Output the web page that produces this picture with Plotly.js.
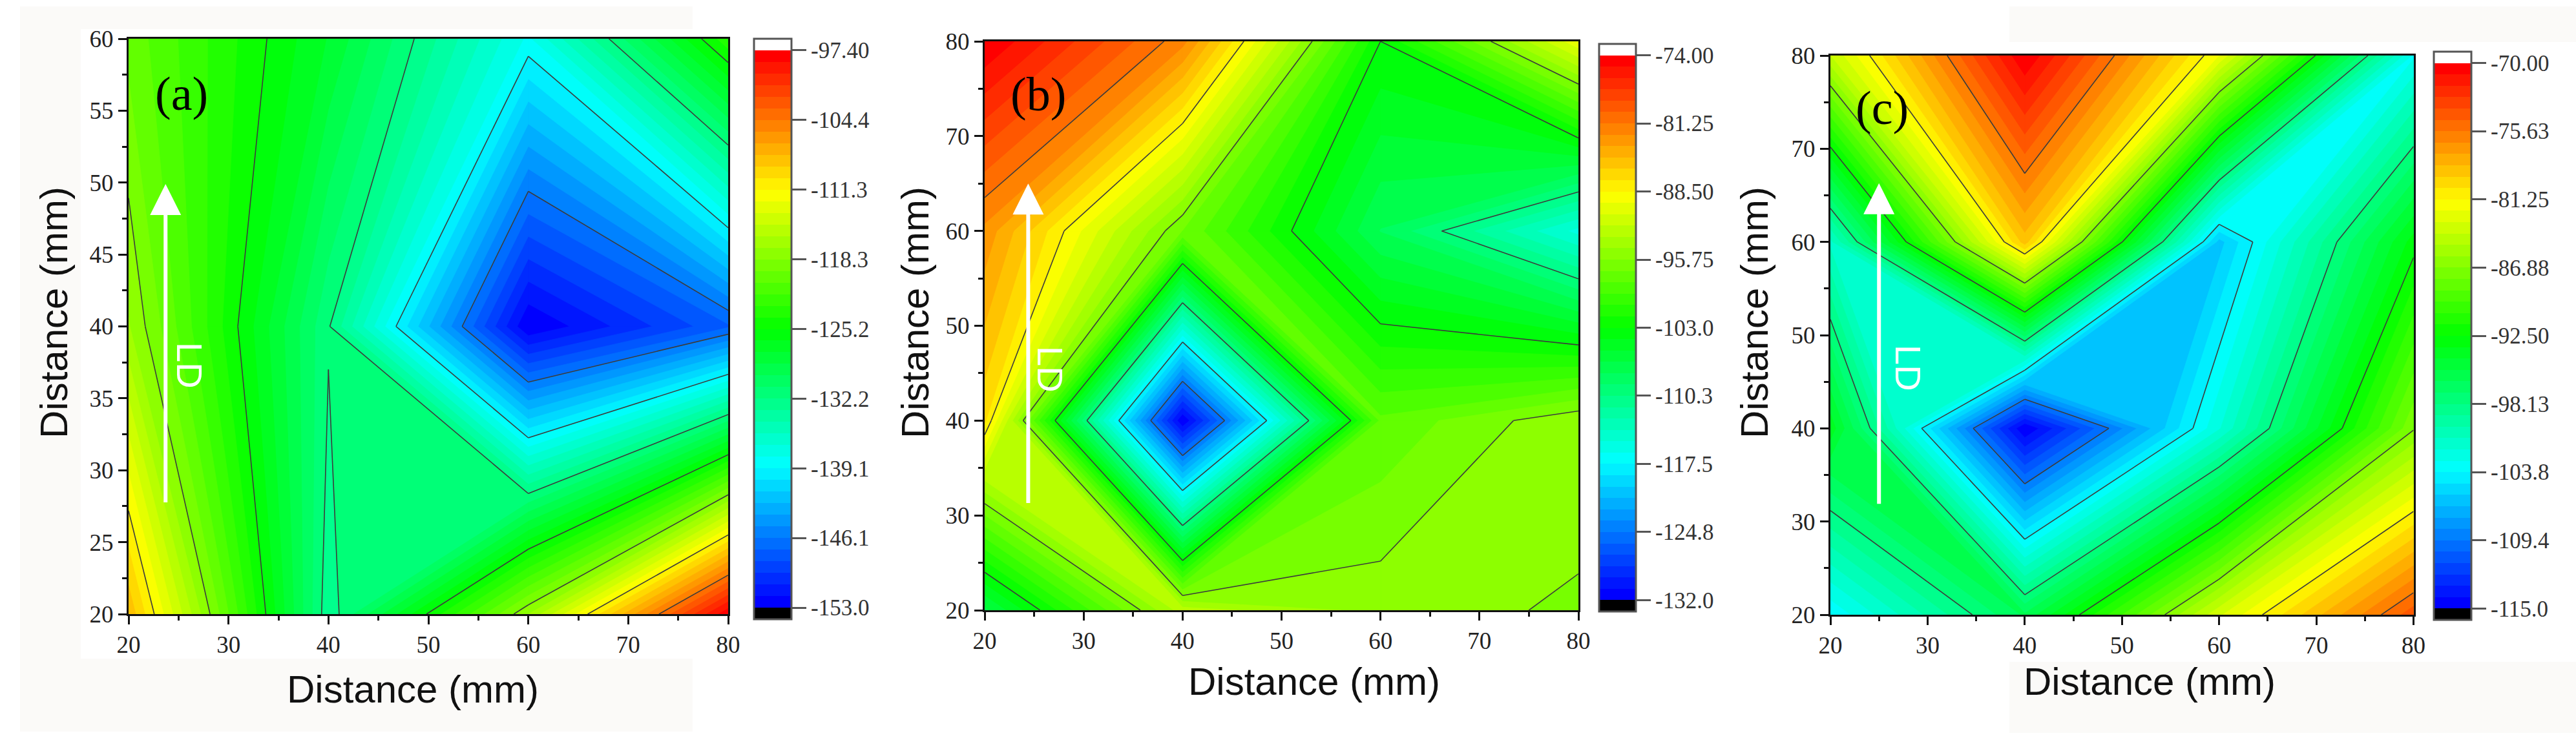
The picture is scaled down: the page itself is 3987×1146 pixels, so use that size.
<!DOCTYPE html>
<html><head><meta charset="utf-8">
<script src="https://cdn.plot.ly/plotly-3.0.1.min.js"></script>
<style>html,body{margin:0;padding:0;background:#fff}</style></head>
<body><div id="chart" style="width:3987px;height:1146px"></div>
<script>
// ---- values ----
const xGrid = [20, 40, 60, 80];
const yGridA = [20, 40, 60];
const yGridB = [20, 40, 60, 80];
const yGridC = [20, 40, 60, 80];
const zA = [
  [-108.1, -133.0, -117.1, -97.6],
  [-117.0, -132.0, -153.0, -147.4],
  [-119.8, -127.6, -138.2, -123.2]
];
const zB = [
  [-107.0, -92.7, -95.0, -96.0],
  [-87.0, -132.0, -97.9, -94.7],
  [-82.8, -97.0, -107.9, -115.5],
  [-74.0, -82.0, -103.0, -90.0]
];
const zC = [
  [-103.6, -96.1, -83.3, -74.1],
  [-93.8, -115.0, -102.0, -87.0],
  [-101.2, -78.9, -106.0, -93.0],
  [-84.1, -70.0, -82.2, -103.0]
];
const barLabelsA = ['-97.40','-104.4','-111.3','-118.3','-125.2','-132.2','-139.1','-146.1','-153.0'];
const barLabelsB = ['-74.00','-81.25','-88.50','-95.75','-103.0','-110.3','-117.5','-124.8','-132.0'];
const barLabelsC = ['-70.00','-75.63','-81.25','-86.88','-92.50','-98.13','-103.8','-109.4','-115.0'];
const rangesZ = {a:[-153,-97.4], b:[-132,-74], c:[-115,-70]};
const axisTitle = 'Distance (mm)';
const panelTags = ['(a)','(b)','(c)'];
const arrowText = 'LD';
const rainbow = [[0,0,255],[0,255,255],[0,255,0],[255,255,0],[255,0,0]];
const bandsPerTick = 6, tickSteps = 8, bandCount = bandsPerTick*tickSteps;

// ---- layout (pixels of the 3987x1146 page) ----
const W = 3987, H = 1146;
const panels = [
 {id:'', xg:xGrid, yg:yGridA, z:zA, zr:rangesZ.a, labels:barLabelsA, yr:[20,60], ydt:5, ymin:2.5,
  box:[199,1127,60,951], bar:[1167,1225,60,959], tag:[281,145], ld:[293,566], arrow:[23.7,27.7,49.9],
  xt:[639,1067], yt:[84,484]},
 {id:'2', xg:xGrid, yg:yGridB, z:zB, zr:rangesZ.b, labels:barLabelsB, yr:[20,80], ydt:10, ymin:5,
  box:[1524,2443,64,945], bar:[2475,2532,68,947], tag:[1607,146], ld:[1626,572], arrow:[24.4,31.2,65],
  xt:[2034,1055], yt:[1417,484]},
 {id:'3', xg:xGrid, yg:yGridC, z:zC, zr:rangesZ.c, labels:barLabelsC, yr:[20,80], ydt:10, ymin:5,
  box:[2833,3735.5,86,952], bar:[3767,3825,80,960], tag:[2913,167], ld:[2954,570], arrow:[25,31.8,66.3],
  xt:[3327,1055], yt:[2716,484]}
];
const px = v => v/W, py = v => 1 - v/H;

function bandColor(k){
  const t = k/(bandCount-1)*(rainbow.length-1), i = Math.min(Math.floor(t), rainbow.length-2), f = t-i;
  const c = rainbow[i].map((a,j)=>Math.round(a+(rainbow[i+1][j]-a)*f));
  return `rgb(${c[0]},${c[1]},${c[2]})`;
}

// Contouring cell by cell. In a saddle cell the diagonal pair of corners closer in value stays joined.
function cross(a,b,L){ const t=(L-a.z)/(b.z-a.z); return [a.x+(b.x-a.x)*t, a.y+(b.y-a.y)*t]; }
function cellsOf(p){
  const out=[];
  for(let j=0;j<p.yg.length-1;j++) for(let i=0;i<p.xg.length-1;i++){
    out.push([
      {x:p.xg[i],y:p.yg[j],z:p.z[j][i]},{x:p.xg[i+1],y:p.yg[j],z:p.z[j][i+1]},
      {x:p.xg[i+1],y:p.yg[j+1],z:p.z[j+1][i+1]},{x:p.xg[i],y:p.yg[j+1],z:p.z[j+1][i]}]);
  }
  return out;
}
function isSaddle(up){ return up[0]===up[2] && up[1]===up[3] && up[0]!==up[1]; }
function highsJoined(c,up){
  const d02=Math.abs(c[0].z-c[2].z), d13=Math.abs(c[1].z-c[3].z);
  return up[0] ? d02<=d13 : d13<=d02;
}
function fillPolys(c,L){
  const up=c.map(q=>q.z>=L), polys=[];
  if(!up.some(Boolean)) return polys;
  if(isSaddle(up) && !highsJoined(c,up)){
    for(let i=0;i<4;i++) if(up[i]){
      const pr=c[(i+3)%4], nx=c[(i+1)%4];
      polys.push([cross(pr,c[i],L),[c[i].x,c[i].y],cross(c[i],nx,L)]);
    }
    return polys;
  }
  const poly=[];
  for(let i=0;i<4;i++){
    const n=(i+1)%4;
    if(up[i]) poly.push([c[i].x,c[i].y]);
    if(up[i]!==up[n]) poly.push(cross(c[i],c[n],L));
  }
  polys.push(poly);
  return polys;
}
function lineSegs(c,L){
  const up=c.map(q=>q.z>=L), e=[];
  for(let i=0;i<4;i++){ const n=(i+1)%4; e[i]=(up[i]!==up[n])?cross(c[i],c[n],L):null; }
  if(isSaddle(up)){
    const hj=highsJoined(c,up);
    const pairs = up[0]? (hj?[[0,1],[2,3]]:[[3,0],[1,2]]) : (hj?[[3,0],[1,2]]:[[0,1],[2,3]]);
    return pairs.map(([a,b])=>[e[a],e[b]]);
  }
  const pts=e.filter(Boolean);
  return pts.length===2?[pts]:[];
}

const traces=[], annos=[], shapes=[];
const layout={width:W,height:H,autosize:false,margin:{l:0,r:0,t:0,b:0},paper_bgcolor:'#fff',plot_bgcolor:'#fff',showlegend:false};
const tickFont={family:'"Liberation Serif",serif',size:37,color:'#222'};

// pale scan panels behind the figure
[[31,1072,10,1133,'#fbfaf8'],[125,1072,45,1020,'#ffffff'],[3110,3987,10,65,'#fbfaf8'],[3110,3987,1025,1135,'#fbfaf8']]
 .forEach(r=>shapes.push({type:'rect',xref:'paper',yref:'paper',x0:px(r[0]),x1:px(r[1]),y0:py(r[3]),y1:py(r[2]),fillcolor:r[4],line:{width:0},layer:'below'}));

panels.forEach(p=>{
  const xa='x'+p.id, ya='y'+p.id, xk='xaxis'+p.id, yk='yaxis'+p.id;
  const [zlo,zhi]=p.zr, step=(zhi-zlo)/bandCount;
  layout[xk]={domain:[px(p.box[0]),px(p.box[1])],anchor:ya,range:[20,80],dtick:10,tick0:20,ticks:'outside',ticklen:13,tickwidth:3,
    tickcolor:'#111',showgrid:false,zeroline:false,showline:true,linecolor:'#111',linewidth:3,mirror:true,tickfont:tickFont,
    minor:{dtick:5,tick0:20,ticks:'outside',ticklen:7,tickwidth:3,tickcolor:'#111',showgrid:false}};
  layout[yk]={domain:[py(p.box[3]),py(p.box[2])],anchor:xa,range:p.yr,dtick:p.ydt,tick0:20,ticks:'outside',ticklen:13,tickwidth:3,
    tickcolor:'#111',showgrid:false,zeroline:false,showline:true,linecolor:'#111',linewidth:3,mirror:true,tickfont:tickFont,
    minor:{dtick:p.ymin,tick0:20,ticks:'outside',ticklen:7,tickwidth:3,tickcolor:'#111',showgrid:false}};

  // stepped scale: black below the range, white above it
  const scale=[], n=bandCount+2;
  for(let k=0;k<n;k++){
    const col = k===0?'#000000':(k===n-1?'#ffffff':bandColor(k-1));
    scale.push([k/n,col],[(k+1)/n,col]);
  }
  traces.push({type:'heatmap',x:p.xg,y:p.yg,z:p.z,xaxis:xa,yaxis:ya,zmin:zlo-step,zmax:zhi+step,colorscale:scale,hoverinfo:'skip',
    colorbar:{x:px(p.bar[0]),xanchor:'left',y:py((p.bar[2]+p.bar[3])/2),yanchor:'middle',len:(p.bar[3]-p.bar[2])/H,lenmode:'fraction',
      thickness:p.bar[1]-p.bar[0],thicknessmode:'pixels',xpad:0,ypad:0,tickmode:'array',
      tickvals:p.labels.map((_,i)=>zhi-i*(zhi-zlo)/tickSteps),ticktext:p.labels,ticks:'outside',ticklen:22,tickwidth:3,tickcolor:'#555',
      outlinecolor:'#555',outlinewidth:3,borderwidth:0,tickfont:{family:'"Liberation Serif",serif',size:35,color:'#333'}}});

  const cells=cellsOf(p);
  for(let k=0;k<bandCount;k++){
    const L=zlo+k*step, xs=[], ys=[];
    cells.forEach(c=>fillPolys(c,L).forEach(poly=>{
      poly.forEach(q=>{xs.push(q[0]);ys.push(q[1]);});
      xs.push(poly[0][0],null);ys.push(poly[0][1],null);
    }));
    if(xs.length) traces.push({type:'scatter',mode:'lines',x:xs,y:ys,xaxis:xa,yaxis:ya,fill:'toself',fillcolor:bandColor(k),
      line:{color:bandColor(k),width:0.8},hoverinfo:'skip'});
  }
  for(let m=1;m<tickSteps;m++){
    const L=zlo+m*bandsPerTick*step, xs=[], ys=[];
    cells.forEach(c=>lineSegs(c,L).forEach(s=>{xs.push(s[0][0],s[1][0],null);ys.push(s[0][1],s[1][1],null);}));
    traces.push({type:'scatter',mode:'lines',x:xs,y:ys,xaxis:xa,yaxis:ya,line:{color:'#3c3c3c',width:1.6},hoverinfo:'skip'});
  }

  const base={xref:'paper',yref:'paper',showarrow:false,xanchor:'center',yanchor:'middle'};
  const sans='"Liberation Sans",Arial,sans-serif';
  annos.push(Object.assign({},base,{x:px(p.xt[0]),y:py(p.xt[1]),text:axisTitle,font:{family:sans,size:60,color:'#111'}}));
  annos.push(Object.assign({},base,{x:px(p.yt[0]),y:py(p.yt[1]),text:axisTitle,textangle:-90,font:{family:sans,size:60,color:'#111'}}));
  annos.push(Object.assign({},base,{x:px(p.tag[0]),y:py(p.tag[1]),text:panelTags[panels.indexOf(p)],font:{family:'"Liberation Serif",serif',size:74,color:'#000'}}));
  annos.push(Object.assign({},base,{x:px(p.ld[0]),y:py(p.ld[1]),text:arrowText,textangle:90,font:{family:sans,size:56,color:'#fff'}}));
  annos.push({xref:xa,yref:ya,axref:xa,ayref:ya,x:p.arrow[0],y:p.arrow[2],ax:p.arrow[0],ay:p.arrow[1],text:'',showarrow:true,
    arrowhead:2,arrowsize:1.6,arrowwidth:6,arrowcolor:'#fff'});
});
layout.annotations=annos; layout.shapes=shapes;
Plotly.newPlot('chart',traces,layout,{displayModeBar:false,responsive:false,staticPlot:true});
</script></body></html>
